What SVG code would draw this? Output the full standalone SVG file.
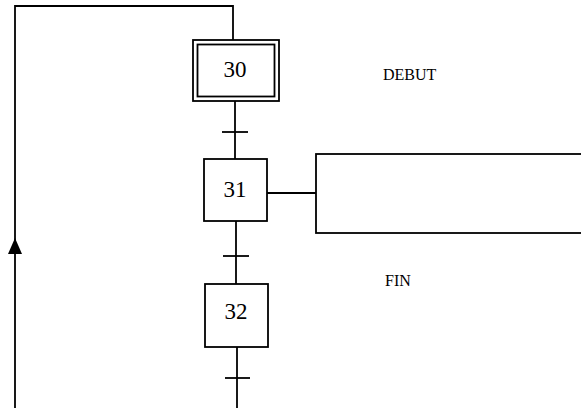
<svg xmlns="http://www.w3.org/2000/svg" width="581" height="408" viewBox="0 0 581 408">
<defs>
<style>
.ln{fill:none;stroke:#000;stroke-width:1.8}
.box{fill:#fff;stroke:#000;stroke-width:1.8}
.num{font-family:"Liberation Serif",serif;font-size:23px;text-anchor:middle;fill:#000}
.lbl{font-family:"Liberation Serif",serif;font-size:16px;fill:#000}
</style>
</defs>
<g id="connectors">
<path class="ln" d="M15,408 V6 H233 V40"/>
<polygon points="15,238 8,254 22,254" fill="#000"/>
<path class="ln" d="M235,101 V159"/>
<path class="ln" d="M222,132 H248"/>
<path class="ln" d="M236,221 V284"/>
<path class="ln" d="M223,256 H249"/>
<path class="ln" d="M237,347 V408"/>
<path class="ln" d="M225,378 H250"/>
<path class="ln" d="M267,193 H316"/>
</g>
<g id="step30">
<rect class="box" x="193" y="40" width="86" height="61"/>
<rect class="box" x="197.5" y="44.5" width="77" height="52"/>
<text class="num" x="235" y="77">30</text>
</g>
<g id="step31">
<rect class="box" x="204" y="159" width="63" height="62"/>
<text class="num" x="235" y="197">31</text>
</g>
<g id="step32">
<rect class="box" x="205" y="284" width="63" height="63"/>
<text class="num" x="236" y="319">32</text>
</g>
<g id="action31">
<rect class="box" x="316" y="154" width="275" height="79"/>
</g>
<g id="labels">
<text class="lbl" x="383" y="80">DEBUT</text>
<text class="lbl" x="385" y="286">FIN</text>
</g>
</svg>
